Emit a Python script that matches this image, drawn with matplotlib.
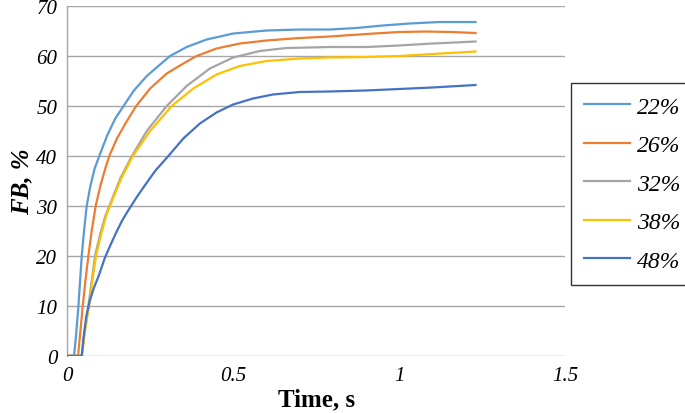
import matplotlib.pyplot as plt

# values (time in s, FB in %)
t_22 = [0, 0.021, 0.028, 0.034, 0.044, 0.051, 0.059, 0.07, 0.083, 0.097, 0.12, 0.145,
        0.17, 0.2, 0.24, 0.28, 0.31, 0.36, 0.42, 0.5, 0.6, 0.7, 0.79, 0.87, 0.95,
        1.03, 1.12, 1.23]
fb_22 = [0, 0, 5, 10, 20, 25, 30, 34, 37.5, 40, 44, 47.5,
         50, 53, 56, 58.3, 60, 61.8, 63.3, 64.5, 65.1, 65.3, 65.3, 65.6, 66.1,
         66.5, 66.8, 66.8]

t_26 = [0, 0.033, 0.04, 0.047, 0.055, 0.064, 0.074, 0.086, 0.1, 0.115, 0.127, 0.15,
        0.18, 0.208, 0.25, 0.3, 0.35, 0.39, 0.45, 0.52, 0.6, 0.7, 0.79, 0.9, 1.0,
        1.08, 1.16, 1.23]
fb_26 = [0, 0, 5, 10, 15, 20, 25, 30, 34, 37.5, 40, 43.5,
         47, 50, 53.5, 56.5, 58.5, 60, 61.5, 62.5, 63.1, 63.6, 63.9, 64.4, 64.8,
         64.9, 64.8, 64.6]

t_32 = [0, 0.044, 0.053, 0.064, 0.074, 0.084, 0.1, 0.115, 0.13, 0.16, 0.195, 0.24,
        0.30, 0.36, 0.43, 0.5, 0.58, 0.66, 0.79, 0.9, 1.0, 1.1, 1.23]
fb_32 = [0, 0, 5, 10, 15, 20, 24.5, 28, 30.5, 35.5, 40, 45,
         50, 54, 57.5, 59.7, 61, 61.6, 61.8, 61.8, 62.1, 62.5, 62.9]

t_38 = [0, 0.044, 0.054, 0.066, 0.076, 0.087, 0.103, 0.117, 0.132, 0.163, 0.198, 0.25,
        0.315, 0.38, 0.45, 0.52, 0.6, 0.7, 0.79, 0.9, 1.0, 1.1, 1.23]
fb_38 = [0, 0, 5, 10, 15, 20, 24.5, 28, 30.5, 35.5, 40, 45,
         50, 53.5, 56.3, 58, 59, 59.5, 59.7, 59.8, 60.0, 60.4, 60.9]

t_48 = [0, 0.044, 0.05, 0.058, 0.068, 0.08, 0.095, 0.113, 0.128, 0.145, 0.165, 0.185,
        0.21, 0.235, 0.265, 0.305, 0.35, 0.40, 0.45, 0.5, 0.56, 0.62, 0.7, 0.79,
        0.9, 1.0, 1.1, 1.23]
fb_48 = [0, 0, 4, 8, 11, 13.5, 16, 19.5, 21.8, 24.3, 27, 29.2,
         31.8, 34.2, 37, 40, 43.5, 46.5, 48.7, 50.3, 51.5, 52.3, 52.8, 52.9,
         53.1, 53.4, 53.7, 54.2]

labels = ['22%', '26%', '32%', '38%', '48%']
colors = ['#5B9BD5', '#ED7D31', '#A5A5A5', '#FFC000', '#4472C4']
series = [(t_22, fb_22), (t_26, fb_26), (t_32, fb_32), (t_38, fb_38), (t_48, fb_48)]

xticks = [0, 0.5, 1, 1.5]
xtick_labels = ['0', '0.5', '1', '1.5']
yticks = [0, 10, 20, 30, 40, 50, 60, 70]

serif = 'Liberation Serif'

fig = plt.figure(figsize=(6.85, 4.14), dpi=100)
ax = fig.add_axes([0.098, 0.138, 0.727, 0.845])

for (t, fb), lab, col in zip(series, labels, colors):
    ax.plot(t, fb, color=col, linewidth=1.6, label=lab, zorder=3,
            solid_joinstyle='round')

ax.set_xlim(0, 1.5)
ax.set_ylim(0, 70)
ax.set_xticks(xticks)
ax.set_xticklabels(xtick_labels)
ax.set_yticks(yticks)
ax.grid(axis='y', color='#A6A6A6', linewidth=1.0)
ax.set_axisbelow(True)
ax.tick_params(length=0, labelsize=15, pad=7)
for lbl in ax.get_xticklabels() + ax.get_yticklabels():
    lbl.set_fontfamily(serif)
    lbl.set_fontstyle('italic')

for side in ['top', 'right', 'bottom']:
    ax.spines[side].set_visible(False)
ax.spines['left'].set_color('#A6A6A6')
ax.spines['left'].set_linewidth(1.0)

ax.set_xlabel('Time, s', fontfamily=serif, fontweight='bold', fontsize=18, labelpad=2)
ax.set_ylabel('FB, %', fontfamily=serif, fontweight='bold', fontstyle='italic',
              fontsize=18, labelpad=2)

# legend sits outside the plot, right of the axes
leg = fig.legend(loc='upper left', bbox_to_anchor=(0.834, 0.797),
                 prop={'family': serif, 'style': 'italic', 'size': 17},
                 frameon=True, fancybox=False, edgecolor='black',
                 handlelength=1.95, labelspacing=0.72, borderpad=0.55,
                 handletextpad=0.3, borderaxespad=0)
leg.get_frame().set_linewidth(1.0)

plt.savefig('out.png', dpi=100)
